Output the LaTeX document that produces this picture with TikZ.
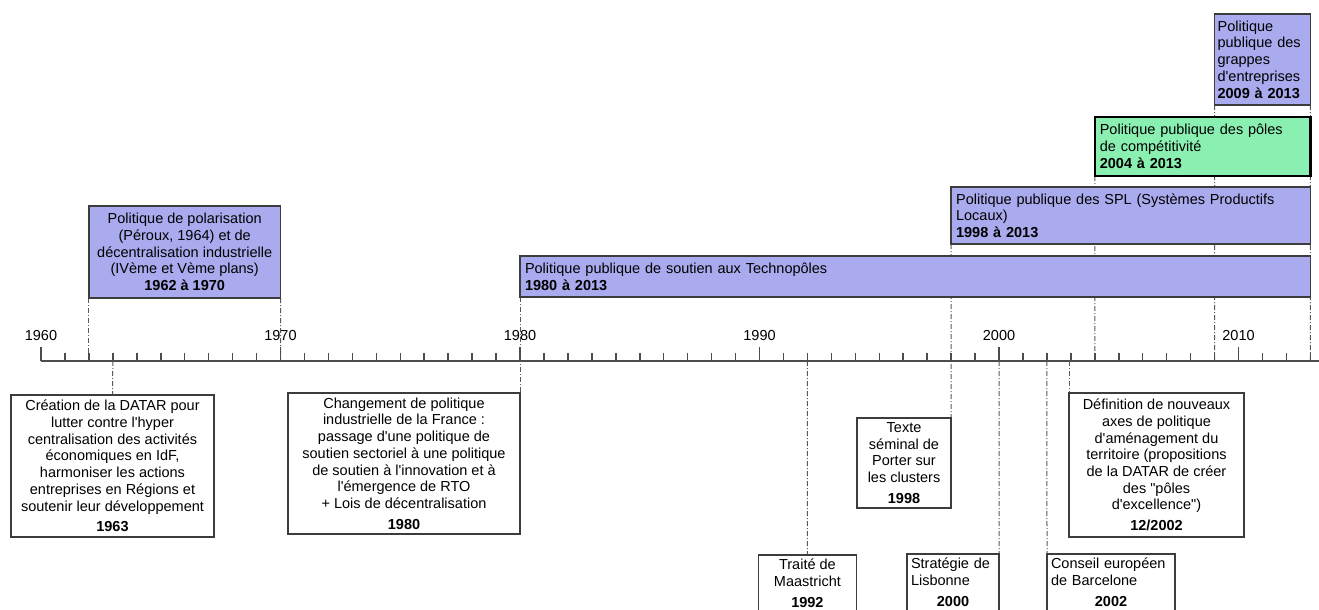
\documentclass[tikz,border=0pt]{standalone}
\usepackage{fontspec}
\newfontfamily\arial{Liberation Sans}
\usetikzlibrary{backgrounds}

\definecolor{lavande}{RGB}{170,170,238}
\definecolor{menthe}{RGB}{138,240,178}
\definecolor{bord}{RGB}{60,60,60}
\newcommand{\police}{\arial\fontsize{14.5}{16.7}\selectfont}

\tikzset{
    periode/.style={draw=bord, fill=lavande, line width=1.5pt, anchor=north west,
        inner sep=5pt, outer sep=0pt, font=\police},
    evenement/.style={draw=bord, fill=white, line width=1.2pt, anchor=north west,
        inner sep=4pt, outer sep=0pt, font=\police},
    repere/.style={draw=black!65, line width=1pt, dash pattern=on 5pt off 2pt on 1pt off 2pt},
    axe/.style={draw=black!70, line width=1.5pt},
}

\begin{document}
\begin{tikzpicture}[x=1pt, y=-1pt]
    \useasboundingbox (0,0) rectangle (1319,610);
    % axe du temps
    \foreach \y in {1960,...,2013} {
        \pgfmathparse{41+(\y-1960)*23.95}
        \let\xx\pgfmathresult
        \coordinate (t\y) at (\xx,361);
        \draw [axe] (t\y) -- ++(0,-8);
    }
    \coordinate (t2002m12) at (1069,361);
    \draw [axe, line width=2pt] (t1960) -- (1319,361);
    \foreach \y in {1960,1970,...,2010} {
        \draw [axe] (t\y) -- ++(0,-14);
        \node [font=\police, yshift=25pt] (an\y) at (t\y) {\y};
    }

    % politiques publiques
    \node [periode, align=center, inner xsep=3pt, minimum width=191.6pt, minimum height=92pt]
        (polar) at (88.9,206) {Politique de polarisation\\(Péroux, 1964) et de\\décentralisation industrielle\\(IVème et Vème plans)\\\textbf{1962 à 1970}};
    \node [periode, align=left, text width=780.4pt, minimum height=41pt]
        (techno) at (520,256) {Politique publique de soutien aux Technopôles\\\textbf{1980 à 2013}};
    \node [periode, align=left, text width=349.3pt, minimum height=57pt]
        (spl) at (951.1,187) {Politique publique des SPL (Systèmes Productifs\\Locaux)\\\textbf{1998 à 2013}};
    \node [periode, fill=menthe, draw=black, line width=2.5pt, align=left, text width=205.6pt, minimum height=59pt]
        (poles) at (1094.8,117) {Politique publique des pôles\\de compétitivité\\\textbf{2004 à 2013}};
    \node [periode, align=left, inner xsep=3pt, text width=89.8pt, minimum height=91pt]
        (grappes) at (1214.6,14) {Politique\\publique des\\grappes\\d'entreprises\\\textbf{2009 à 2013}};

    % evenements
    \node [evenement, align=center, minimum width=203pt, minimum height=142pt]
        (datar) at (11,395) {Création de la DATAR pour\\lutter contre l'hyper\\centralisation des activités\\économiques en IdF,\\harmoniser les actions\\entreprises en Régions et\\soutenir leur développement\\[4pt]\textbf{1963}};
    \node [evenement, align=center, minimum width=232pt, minimum height=141pt]
        (chgt) at (288,393) {Changement de politique\\industrielle de la France :\\passage d'une politique de\\soutien sectoriel à une politique\\de soutien à l'innovation et à\\l'émergence de RTO\\+ Lois de décentralisation\\[4pt]\textbf{1980}};
    \node [evenement, align=center, minimum width=94pt, minimum height=90pt]
        (porter) at (857,418) {Texte\\séminal de\\Porter sur\\les clusters\\[4pt]\textbf{1998}};
    \node [evenement, align=center, minimum width=175pt, minimum height=144pt]
        (defin) at (1069,393) {Définition de nouveaux\\axes de politique\\d'aménagement du\\territoire (propositions\\de la DATAR de créer\\des "pôles\\d'excellence")\\[4pt]\textbf{12/2002}};
    \node [evenement, align=center, minimum width=98pt]
        (maas) at (758.4,555) {Traité de\\Maastricht\\[4pt]\textbf{1992}};
    \node [evenement, align=left, text width=84pt]
        (lisb) at (907,554) {Stratégie de\\Lisbonne\\[4pt]\hspace*{\fill}\textbf{2000}\hspace*{\fill}\null};
    \node [evenement, align=left, text width=120pt]
        (barc) at (1047,554) {Conseil européen\\de Barcelone\\[4pt]\hspace*{\fill}\textbf{2002}\hspace*{\fill}\null};

    \begin{scope}[on background layer]
        \draw [repere] (polar.south west) -- (t1962);
        \draw [repere] (polar.south east) -- (t1970);
        \draw [repere] (t1963) -- (datar.north);
        \draw [repere] (techno.south west) -- (chgt.north east);
        \draw [repere] (t1992) -- (maas.north);
        \draw [repere] (spl.south west) -- (porter.north east);
        \draw [repere] (t2000) -- (lisb.north east);
        \draw [repere] (t2002) -- (barc.north west);
        \draw [repere] (t2002m12) -- (defin.north west);
        \draw [repere] (poles.south west) -- (t2004);
        \draw [repere] (grappes.south west) -- (t2009);
        \draw [repere] (grappes.south east) -- (t2013);
    \end{scope}
\end{tikzpicture}
\end{document}
